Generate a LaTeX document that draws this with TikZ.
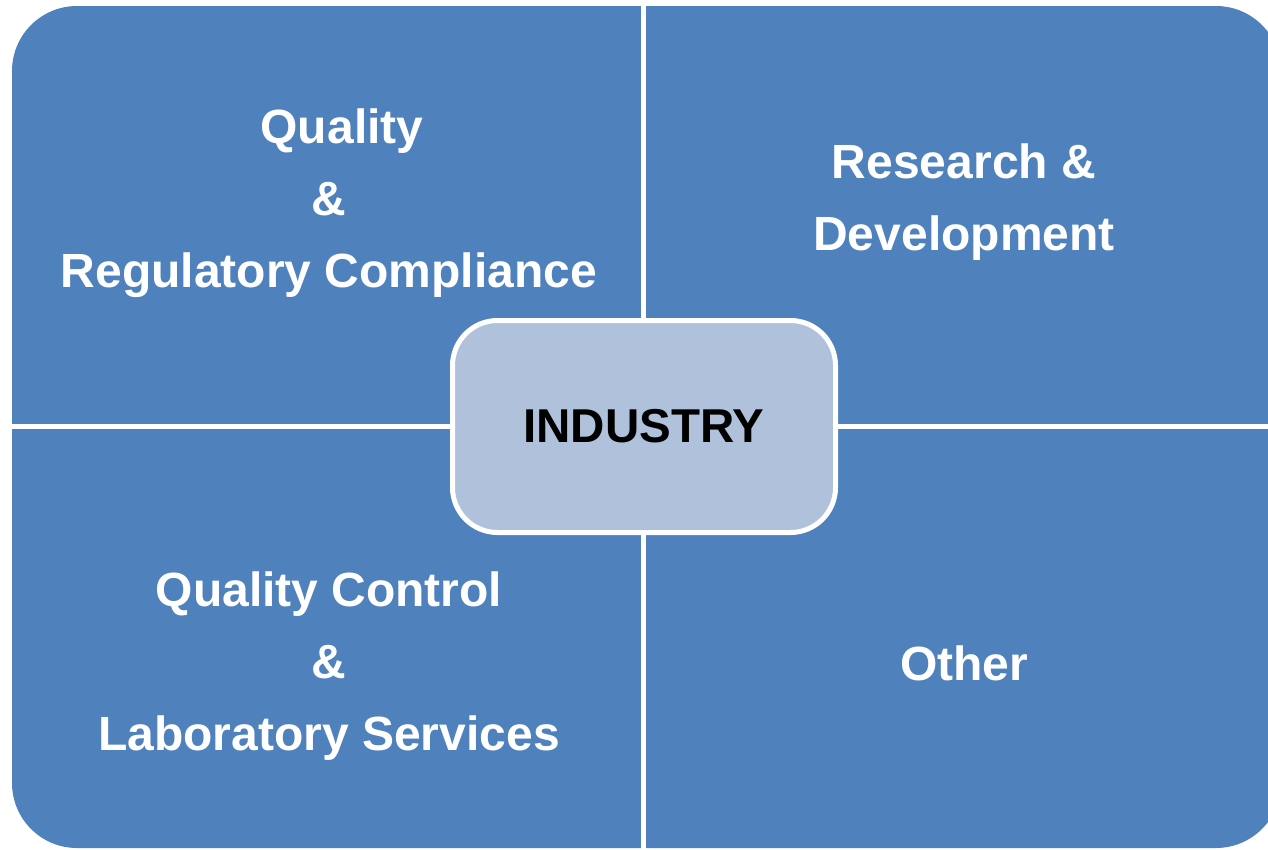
\documentclass[tikz,border=0pt]{standalone}
\usepackage{fontspec}
\setmainfont{Liberation Sans}
\definecolor{quadblue}{HTML}{4F81BD}
\definecolor{centerblue}{HTML}{B0C1DC}
\begin{document}
\begin{tikzpicture}[x=1pt,y=-1pt,
  quadtext/.style={text=white,font=\fontsize{48}{72}\selectfont\bfseries,align=center,inner sep=0pt},
  gap/.style={white,line width=5pt},
  hubbox/.style={fill=centerblue,draw=white,line width=5pt,rounded corners=45pt,
    minimum width=383pt,minimum height=212pt,inner sep=0pt,
    font=\fontsize{47.5}{56}\selectfont\bfseries,text=black}]
\useasboundingbox (0,0) rectangle (1268,849);
\clip (0,0) rectangle (1268,849);
\fill[quadblue,rounded corners=65pt] (12,6) rectangle (1281,848);
\coordinate (vtop) at (643.5,0);
\coordinate (vbot) at (643.5,849);
\coordinate (hleft) at (0,426.5);
\coordinate (hright) at (1268,426.5);
\draw[gap] (vtop) -- (vbot);
\draw[gap] (hleft) -- (hright);
\node[hubbox] (hub) at (644,426.5) {INDUSTRY};
\node[quadtext] (qrc) at (329,203) {\hspace*{26pt}Quality\\\&\\Regulatory Compliance};
\node[quadtext] (rd) at (964,202.5) {Research \&\\Development};
\node[quadtext] (qcl) at (329,666) {Quality Control\\\&\\Laboratory Services};
\node[quadtext] (other) at (964,663) {Other};
\end{tikzpicture}
\end{document}
